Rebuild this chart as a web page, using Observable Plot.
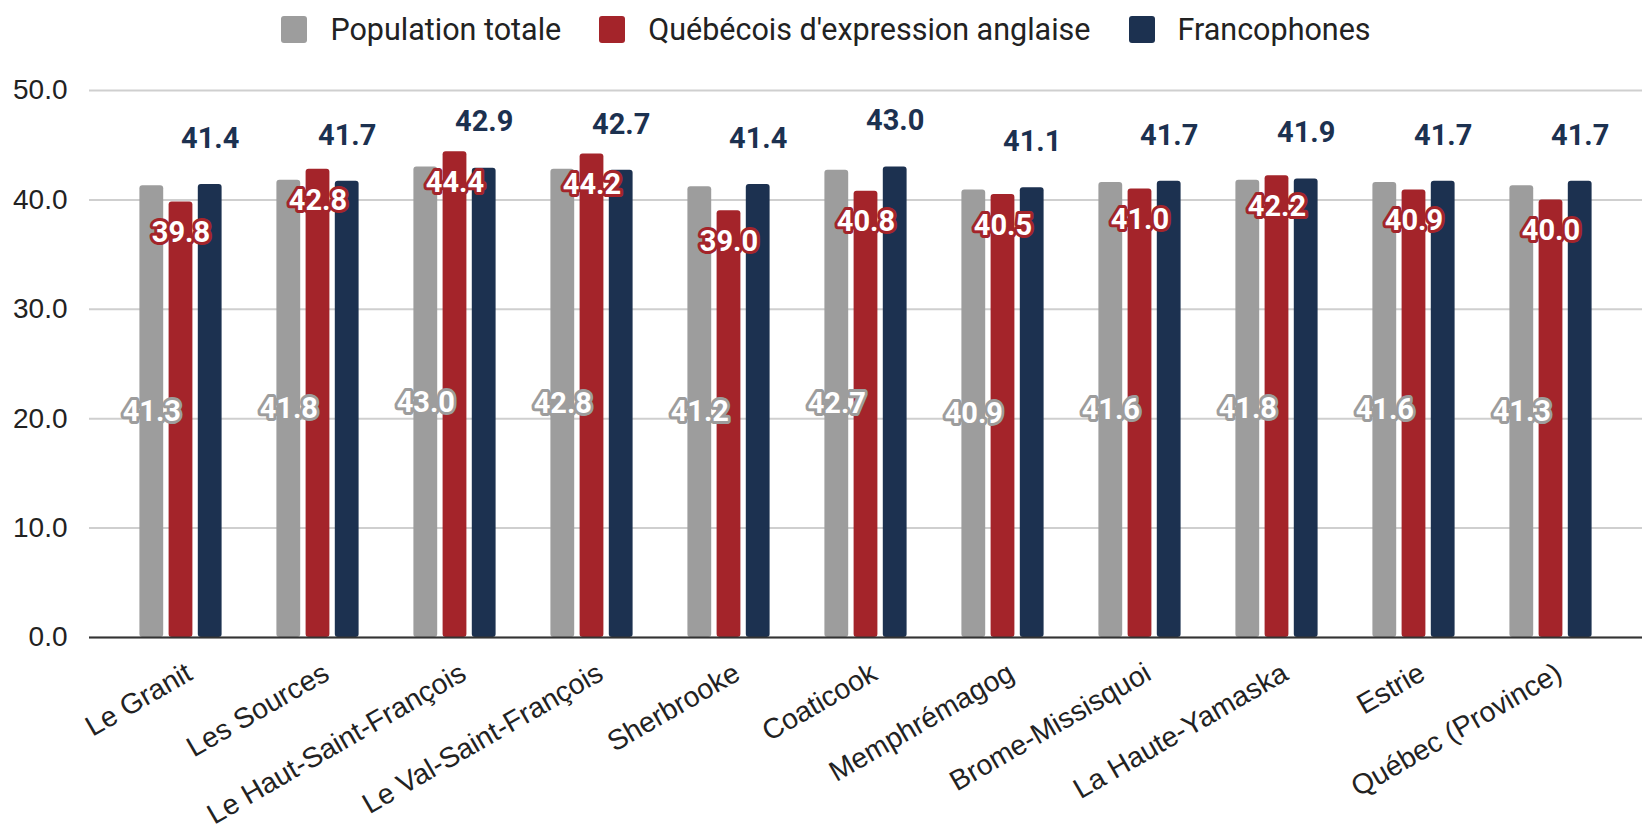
<!DOCTYPE html>
<html><head><meta charset="utf-8">
<script src="https://cdn.jsdelivr.net/npm/d3@7"></script>
<script src="https://cdn.jsdelivr.net/npm/@observablehq/plot@0.6"></script>
<style>
body{margin:0;background:#fff;}
#legend{height:58px;width:1642px;display:flex;align-items:center;justify-content:center;font-family:Roboto,sans-serif;font-size:30.5px;color:#222;padding-left:10px;box-sizing:border-box}
.item{display:flex;align-items:center;margin:0 19px}
.sw{width:26px;height:27px;border-radius:3px;margin-right:23px}
svg{display:block}
</style></head><body><div id="legend"></div><div id="chart"></div>
<script>
const categories = ["Le Granit","Les Sources","Le Haut-Saint-François","Le Val-Saint-François","Sherbrooke","Coaticook","Memphrémagog","Brome-Missisquoi","La Haute-Yamaska","Estrie","Québec (Province)"];
const popTotale    = [41.3,41.8,43.0,42.8,41.2,42.7,40.9,41.6,41.8,41.6,41.3];
const anglophones  = [39.8,42.8,44.4,44.2,39.0,40.8,40.5,41.0,42.2,40.9,40.0];
const francophones = [41.4,41.7,42.9,42.7,41.4,43.0,41.1,41.7,41.9,41.7,41.7];
const seriesNames  = ["Population totale","Québécois d'expression anglaise","Francophones"];
const seriesColors = ["#9d9d9d","#a4242a","#1c3150"];
const yTicks = [0,10,20,30,40,50];

const rows = categories.map((c,i)=>({c, pop:popTotale[i], ang:anglophones[i], fra:francophones[i]}));

const legend = document.getElementById("legend");
seriesNames.forEach((n,i)=>{
  const it = document.createElement("div"); it.className="item";
  const sw = document.createElement("div"); sw.className="sw"; sw.style.background=seriesColors[i];
  const tx = document.createElement("span"); tx.textContent=n;
  it.appendChild(sw); it.appendChild(tx); legend.appendChild(it);
});

const off = 29.2, inset = 56.6;
const lbl = {fontWeight:"bold", fontSize:29, fontFamily:"Roboto", strokeLinejoin:"round", paintOrder:"stroke"};
const fmt = d3.format(".1f");

const chart = Plot.plot({
  width:1642, height:771,
  marginLeft:89, marginRight:0, marginTop:32, marginBottom:192,
  x:{domain:categories, paddingInner:0, paddingOuter:0.16, axis:null},
  y:{domain:[0,50]},
  style:{fontFamily:"Liberation Sans", fontSize:"28px", color:"#222", background:"#fff"},
  marks:[
    Plot.gridY(yTicks,{stroke:"#cfcfcf", strokeOpacity:1, strokeWidth:2}),
    Plot.axisY({ticks:yTicks, tickFormat:fmt, tickSize:0, tickPadding:22, fontSize:28, fontFamily:"Liberation Sans", fill:"#222", label:null}),
    Plot.barY(rows,{x:"c", y:"pop", fill:seriesColors[0], dx:-off, insetLeft:inset, insetRight:inset, rx:3}),
    Plot.barY(rows,{x:"c", y:"ang", fill:seriesColors[1], insetLeft:inset, insetRight:inset, rx:3}),
    Plot.barY(rows,{x:"c", y:"fra", fill:seriesColors[2], dx:off, insetLeft:inset, insetRight:inset, rx:3}),
    Plot.ruleY([0],{stroke:"#333", strokeWidth:2}),
    Plot.text(rows,{x:"c", y:d=>d.pop/2, text:d=>fmt(d.pop), dx:-off, fill:"white", stroke:seriesColors[0], strokeWidth:6, ...lbl}),
    Plot.text(rows,{x:"c", y:"ang", text:d=>fmt(d.ang), dy:31, fill:"white", stroke:seriesColors[1], strokeWidth:6, ...lbl}),
    Plot.text(rows,{x:"c", y:"fra", text:d=>fmt(d.fra), dx:off, dy:-46, fill:seriesColors[2], ...lbl}),
    Plot.text(categories,{x:d=>d, frameAnchor:"bottom", dx:13, dy:41, textAnchor:"end", lineAnchor:"bottom", rotate:-30, fontSize:28.5, fontFamily:"Liberation Sans", fill:"#222"})
  ]
});
document.getElementById("chart").appendChild(chart);
</script></body></html>
